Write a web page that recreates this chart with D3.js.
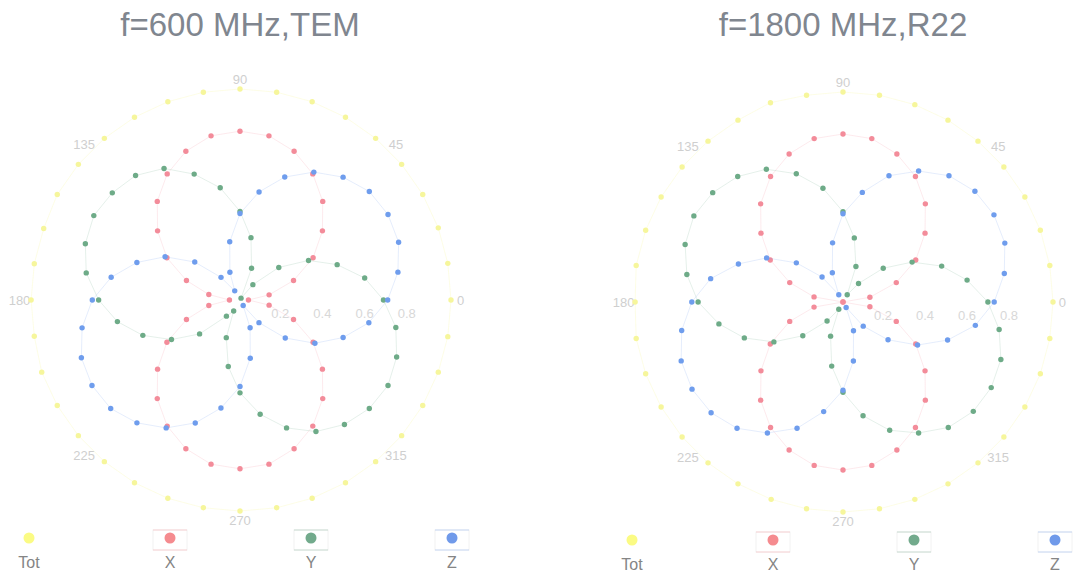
<!DOCTYPE html>
<html>
<head>
<meta charset="utf-8">
<script src="https://cdn.jsdelivr.net/npm/d3@7"></script>
<style>
  html, body { margin: 0; padding: 0; background: #ffffff; }
  svg { display: block; font-family: "Liberation Sans", Arial, sans-serif; }
</style>
</head>
<body>
<svg id="chart" width="1073" height="574"></svg>
<script>
// ---------- data ----------
const angles = [0,10,20,30,40,50,60,70,80,90,100,110,120,130,140,150,160,170,
                180,190,200,210,220,230,240,250,260,270,280,290,300,310,320,330,340,350];

const titles = ["f=600 MHz,TEM", "f=1800 MHz,R22"];
const seriesNames = ["Tot", "X", "Y", "Z"];
const radialTicks = [0.2, 0.4, 0.6, 0.8];
const angularTicks = [0, 45, 90, 135, 180, 225, 270, 315];

// panel 1: f=600 MHz, TEM
const totA = [1.00,1.00,1.00,1.00,1.00,1.00,1.00,1.00,1.00,1.00,1.00,1.00,1.00,1.00,1.00,1.00,0.99,0.99,
              0.99,0.99,1.00,1.00,1.00,1.00,1.00,1.00,1.00,1.00,1.00,1.00,1.00,1.00,1.00,1.00,1.00,1.00];
const xA   = [0.04,0.14,0.27,0.40,0.51,0.61,0.69,0.75,0.79,0.80,0.79,0.75,0.69,0.61,0.51,0.40,0.27,0.15,
              0.05,0.15,0.27,0.40,0.51,0.61,0.69,0.75,0.79,0.80,0.79,0.75,0.69,0.61,0.51,0.40,0.27,0.14];
const yA   = [0.68,0.60,0.49,0.375,0.24,0.095,0.01,0.16,0.30,0.42,0.54,0.635,0.72,0.77,0.79,0.80,0.78,0.74,
              0.67,0.59,0.49,0.375,0.25,0.10,0.06,0.19,0.32,0.44,0.55,0.645,0.72,0.77,0.80,0.81,0.79,0.75];
const zA   = [0.70,0.76,0.80,0.81,0.80,0.76,0.70,0.62,0.52,0.41,0.28,0.14,0.05,0.14,0.28,0.41,0.52,0.62,
              0.70,0.76,0.80,0.81,0.80,0.76,0.70,0.62,0.52,0.41,0.28,0.14,0.03,0.14,0.28,0.41,0.52,0.62];

// panel 2: f=1800 MHz, R22
const totB = [1.00,1.00,1.00,1.00,1.00,1.00,1.00,1.00,1.00,1.00,1.00,1.01,1.00,1.00,1.00,1.00,1.00,1.00,
              0.99,1.00,1.00,1.00,1.00,1.00,1.00,1.00,1.00,1.00,1.00,1.00,1.00,1.00,1.00,1.00,1.00,1.00];
const xB   = [0.00,0.13,0.27,0.40,0.51,0.61,0.69,0.75,0.79,0.80,0.79,0.75,0.69,0.61,0.51,0.40,0.27,0.14,
              0.00,0.14,0.27,0.40,0.51,0.61,0.69,0.75,0.79,0.80,0.79,0.75,0.69,0.61,0.51,0.40,0.27,0.13];
const yB   = [0.69,0.60,0.50,0.38,0.25,0.115,0.04,0.18,0.31,0.43,0.55,0.65,0.73,0.78,0.81,0.82,0.80,0.755,
              0.69,0.60,0.50,0.38,0.25,0.118,0.04,0.173,0.31,0.43,0.55,0.65,0.72,0.78,0.81,0.815,0.80,0.755];
const zB   = [0.72,0.78,0.82,0.83,0.82,0.785,0.72,0.64,0.53,0.42,0.286,0.148,0.04,0.155,0.29,0.42,0.53,0.64,
              0.72,0.78,0.82,0.83,0.82,0.785,0.72,0.64,0.53,0.42,0.285,0.146,0.03,0.15,0.28,0.41,0.53,0.64];

// ---------- styling ----------
const colors = { Tot: "#f6f69c", X: "#f38c9a", Y: "#6eab88", Z: "#6f9ded" };
const legendColors = { Tot: "#fbfb84", X: "#f58b8f", Y: "#72aa8c", Z: "#709aea" };

const panels = [
  { title: titles[0], cx: 240, cy: 300, R: 211, legendX: 29, data: { Tot: totA, X: xA, Y: yA, Z: zA } },
  { title: titles[1], cx: 843, cy: 302, R: 210, legendX: 632, data: { Tot: totB, X: xB, Y: yB, Z: zB } }
];

const svg = d3.select("#chart");

// angle scale: degrees (counter-clockwise from east) -> d3 radial angle (clockwise from north)
const angleScale = d3.scaleLinear().domain([0, 360]).range([Math.PI / 2, Math.PI / 2 - 2 * Math.PI]);

panels.forEach(p => {
  const g = svg.append("g").attr("transform", `translate(${p.cx},${p.cy})`);
  const r = d3.scaleLinear().domain([0, 1]).range([0, p.R]);

  // title
  svg.append("text")
    .attr("x", p.cx).attr("y", 36)
    .attr("text-anchor", "middle")
    .attr("font-size", 33)
    .attr("fill", "#80868f")
    .text(p.title);

  // angular tick labels
  g.selectAll("text.ang")
    .data(angularTicks)
    .join("text")
    .attr("class", "ang")
    .attr("x", d => d3.pointRadial(angleScale(d), r(1.045))[0])
    .attr("y", d => d3.pointRadial(angleScale(d), r(1.045))[1])
    .attr("text-anchor", "middle")
    .attr("dominant-baseline", "central")
    .attr("font-size", 13)
    .attr("fill", "#cfcfcf")
    .text(d => d);

  // radial tick labels
  g.selectAll("text.rad")
    .data(radialTicks)
    .join("text")
    .attr("class", "rad")
    .attr("x", d => r(d) - 2)
    .attr("y", 13)
    .attr("text-anchor", "middle")
    .attr("dominant-baseline", "central")
    .attr("font-size", 13)
    .attr("fill", "#d8d8d8")
    .text(d => d);

  const line = d3.lineRadial()
    .angle((d, i) => angleScale(angles[i]))
    .radius(d => r(d))
    .curve(d3.curveLinearClosed);

  seriesNames.forEach(name => {
    const vals = p.data[name];
    g.append("path")
      .attr("d", line(vals))
      .attr("fill", "none")
      .attr("stroke", colors[name])
      .attr("stroke-width", 1)
      .attr("stroke-opacity", name === "Tot" ? 0.25 : 0.18);

    g.selectAll(null)
      .data(vals)
      .join("circle")
      .attr("cx", (d, i) => d3.pointRadial(angleScale(angles[i]), r(d))[0])
      .attr("cy", (d, i) => d3.pointRadial(angleScale(angles[i]), r(d))[1])
      .attr("r", 2.7)
      .attr("fill", colors[name]);
  });

  // legend
  const lg = svg.append("g");
  seriesNames.forEach((name, i) => {
    const x = p.legendX + i * 141;
    if (name !== "Tot") {
      lg.append("rect")
        .attr("x", x - 17).attr("y", p.cy + 230)
        .attr("width", 34).attr("height", 20)
        .attr("fill", "none")
        .attr("stroke", "#f2f2f2")
        .attr("stroke-width", 1);
      [p.cy + 230, p.cy + 250].forEach(yy => {
        lg.append("line")
          .attr("x1", x - 17).attr("x2", x + 17)
          .attr("y1", yy).attr("y2", yy)
          .attr("stroke", legendColors[name])
          .attr("stroke-opacity", 0.35)
          .attr("stroke-width", 1);
      });
    }
    lg.append("circle")
      .attr("cx", x).attr("cy", p.cy + 238)
      .attr("r", 5.5)
      .attr("fill", legendColors[name]);
    lg.append("text")
      .attr("x", x).attr("y", p.cy + 262)
      .attr("text-anchor", "middle")
      .attr("dominant-baseline", "central")
      .attr("font-size", 16)
      .attr("fill", "#858585")
      .text(name);
  });
});
</script>
</body>
</html>
